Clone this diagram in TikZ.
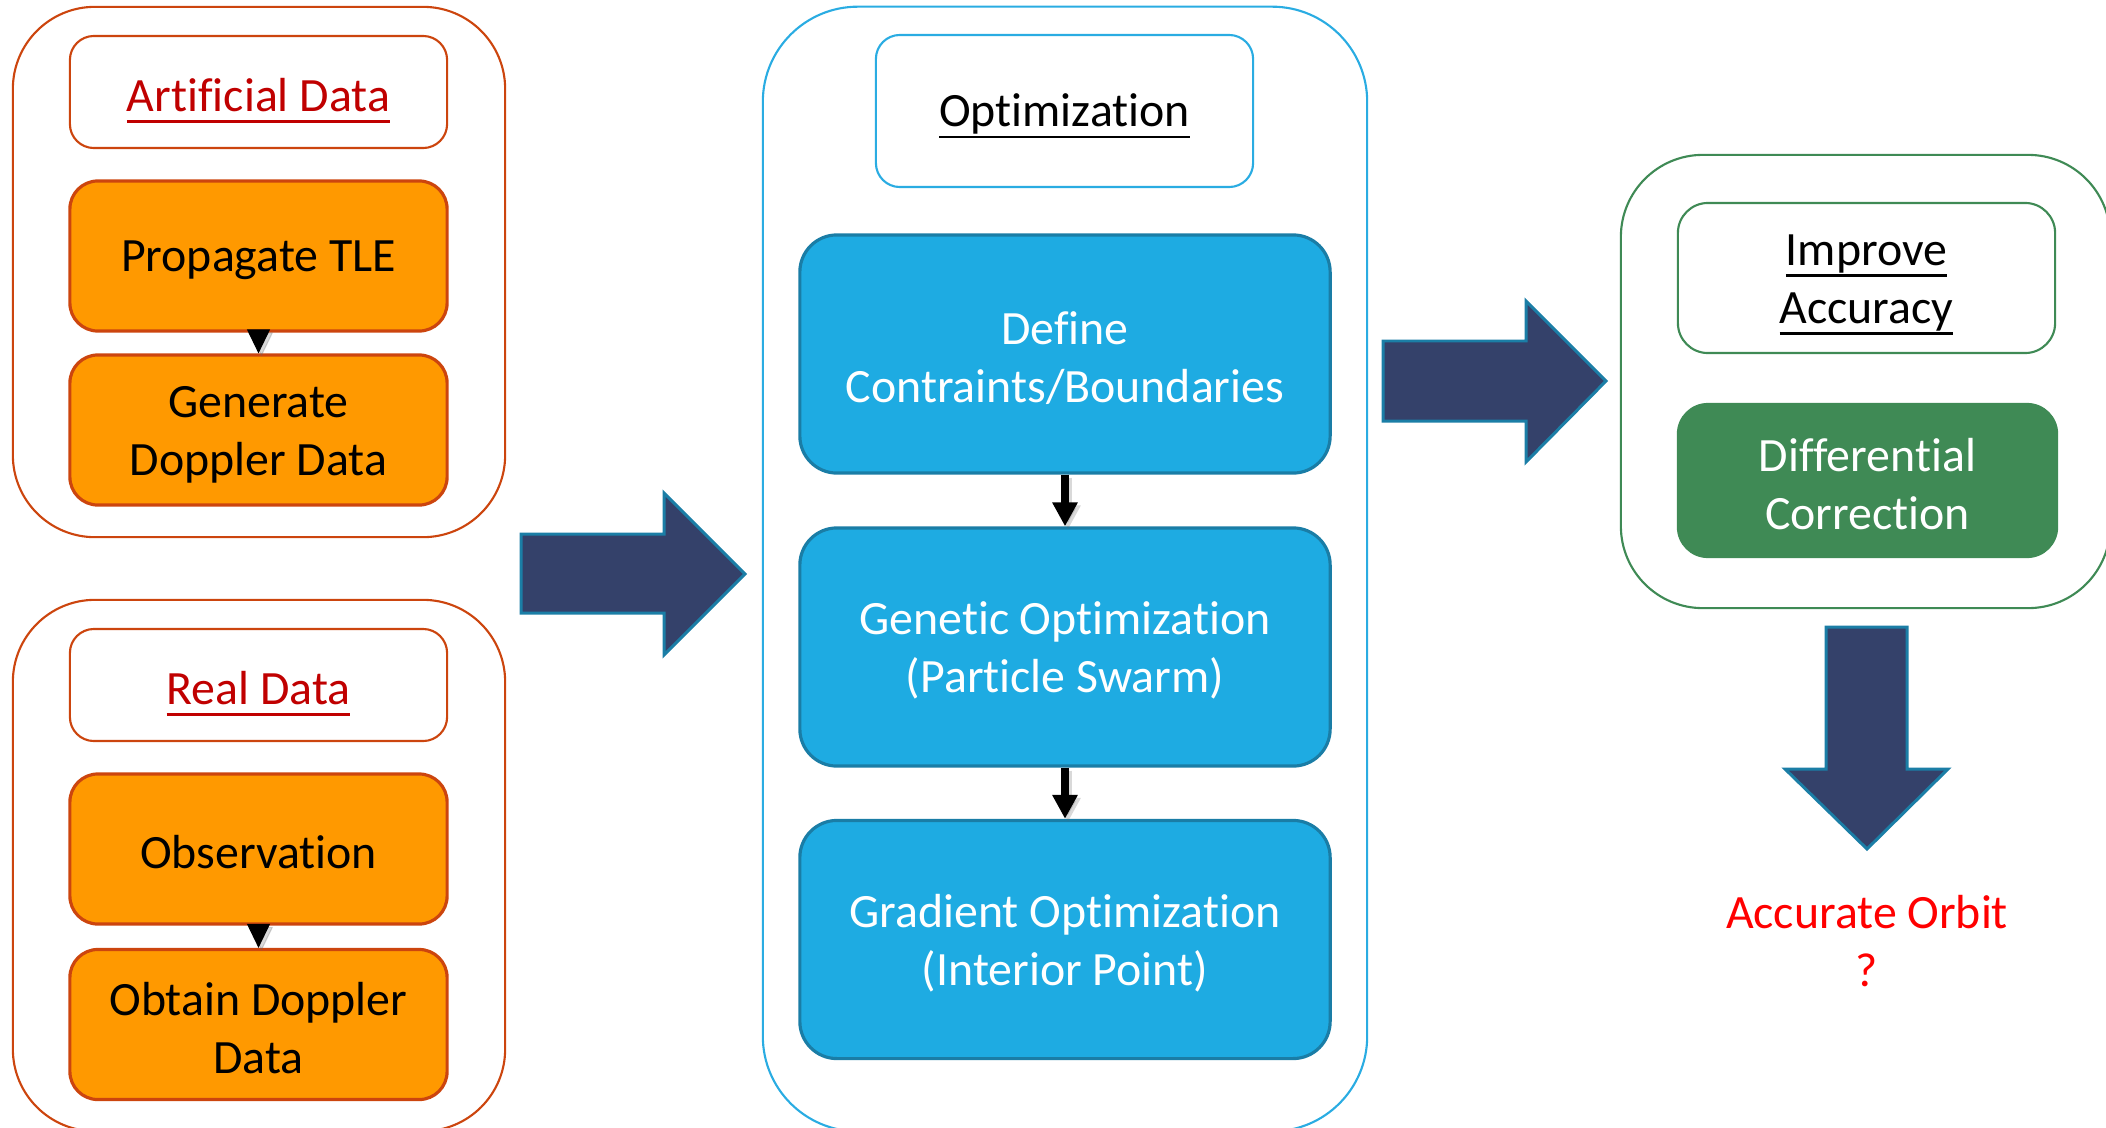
\documentclass[tikz,border=0pt]{standalone}
\usepackage{fontspec}
\setmainfont[Ligatures=NoCommon]{Carlito}
\usetikzlibrary{arrows.meta}

% underline drawn as a rule that does not change the text's depth
\newcommand{\heading}[1]{\setbox0\hbox{#1}\rlap{\smash{\vrule width\wd0 height-2.5pt depth3.3pt}}\box0}
% uniform height for the first line of a label
\newcommand{\lift}{\rule{0pt}{11.5pt}}

\definecolor{orangefill}{HTML}{FF9900}
\definecolor{orangeline}{HTML}{CC450E}
\definecolor{headred}{HTML}{C00000}
\definecolor{bluefill}{HTML}{1EABE2}
\definecolor{blueline}{HTML}{1A7DA6}
\definecolor{midframe}{HTML}{2AACE2}
\definecolor{navy}{HTML}{34416A}
\definecolor{navyline}{HTML}{1B7EA6}
\definecolor{greenfill}{HTML}{3F8A55}
\definecolor{resultred}{HTML}{FF0000}

\tikzset{
  every node/.style={font=\fontsize{13.6}{16.5}\selectfont, align=center, inner sep=0pt,
                     execute at begin node={\rule{0pt}{11.2pt}}},
  frame/.style={draw, line width=0.6pt, rounded corners=0.82cm},
  header/.style={draw, line width=0.6pt, fill=white, rounded corners=0.24cm,
                 minimum width=3.77cm},
  orangebox/.style={draw=orangeline, fill=orangefill, line width=0.9pt,
                    rounded corners=0.28cm, minimum width=3.77cm, minimum height=1.50cm},
  bluebox/.style={draw=blueline, fill=bluefill, line width=0.9pt, text=white,
                  rounded corners=0.37cm, minimum width=5.30cm, minimum height=2.38cm},
  greenbox/.style={draw=greenfill, fill=greenfill, line width=0.6pt, text=white,
                   rounded corners=0.30cm, minimum width=3.79cm, minimum height=1.53cm},
  bigarrow/.style={draw=navyline, fill=navy, line width=0.85pt, line join=miter},
  headtip/.style={-{Triangle[width=0.23cm,length=0.24cm]}, line width=0.3pt},
  flowtip/.style={-{Triangle[width=0.24cm,length=0.24cm]}, line width=2.2pt},
  shadowed/.style={black!60, opacity=0.25,
                   transform canvas={xshift=0.03cm,yshift=-0.03cm}}
}

\begin{document}
\begin{tikzpicture}[x=0.01cm, y=-0.01cm]
  \useasboundingbox (0,0) rectangle (2106,1127);

  % ---- left column: artificial data ----
  \node[frame, draw=orangeline, minimum width=4.92cm, minimum height=5.30cm]
    (artframe) at (259,272) {};
  \node[header, draw=orangeline, minimum height=1.12cm, text=headred]
    (arthead) at (258.5,92) {\heading{Artificial Data}};
  \node[orangebox] (prop) at (258.5,256) {Propagate TLE};
  \node[orangebox] (gen) at (258.5,430) {\lift Generate\\Doppler Data};

  % ---- left column: real data ----
  \node[frame, draw=orangeline, minimum width=4.92cm, minimum height=5.31cm]
    (realframe) at (259,865.5) {};
  \node[header, draw=orangeline, minimum height=1.12cm, text=headred]
    (realhead) at (258.5,685) {\heading{Real Data}};
  \node[orangebox] (obs) at (258.5,849) {Observation};
  \node[orangebox] (obt) at (258.5,1024.5) {\lift Obtain Doppler\\Data};

  % ---- middle column: optimization ----
  \node[frame, draw=midframe, rounded corners=0.95cm,
        minimum width=6.04cm, minimum height=11.24cm] (optframe) at (1065,569) {};
  \node[header, draw=midframe, minimum height=1.52cm]
    (opthead) at (1064.5,111) {\heading{Optimization}};
  \node[bluebox] (define) at (1065,354) {\lift Define\\Contraints/Boundaries};
  \node[bluebox] (genetic) at (1065,647) {\lift Genetic Optimization\\(Particle Swarm)};
  \node[bluebox] (gradient) at (1065,939.5) {\lift Gradient Optimization\\(Interior Point)};

  % ---- right column: accuracy ----
  \node[frame, draw=greenfill, minimum width=4.89cm, minimum height=4.53cm]
    (accframe) at (1865.5,381.5) {};
  \node[header, draw=greenfill, minimum height=1.50cm, rounded corners=0.30cm]
    (acchead) at (1866.5,278) {\lift\heading{Improve}\\\heading{Accuracy}};
  \node[greenbox] (diff) at (1867.5,480.5) {\lift Differential\\Correction};

  \node[text=resultred] (orbit) at (1867,941) {Accurate Orbit\\?};

  % ---- connectors inside the columns ----
  \foreach \a/\b in {prop/gen, obs/obt}{
    \draw[headtip, shadowed] (\a.south) -- (\b.north);
    \draw[headtip] (\a.south) -- (\b.north);
  }
  \foreach \a/\b in {define/genetic, genetic/gradient}{
    \draw[flowtip, shadowed] (\a.south) -- (\b.north);
    \draw[flowtip] (\a.south) -- (\b.north);
  }

  % ---- block arrows between the stages ----
  \draw[bigarrow] (521,534) -- (664,534) -- (664,493) -- (745,574)
                  -- (664,655) -- (664,613) -- (521,613) -- cycle;
  \draw[bigarrow] (1383,341) -- (1526,341) -- (1526,301) -- (1606,381)
                  -- (1526,462) -- (1526,421) -- (1383,421) -- cycle;
  \draw[bigarrow] (1826,627) -- (1907,627) -- (1907,769) -- (1948,769)
                  -- (1867,849) -- (1785,769) -- (1826,769) -- cycle;
\end{tikzpicture}
\end{document}
